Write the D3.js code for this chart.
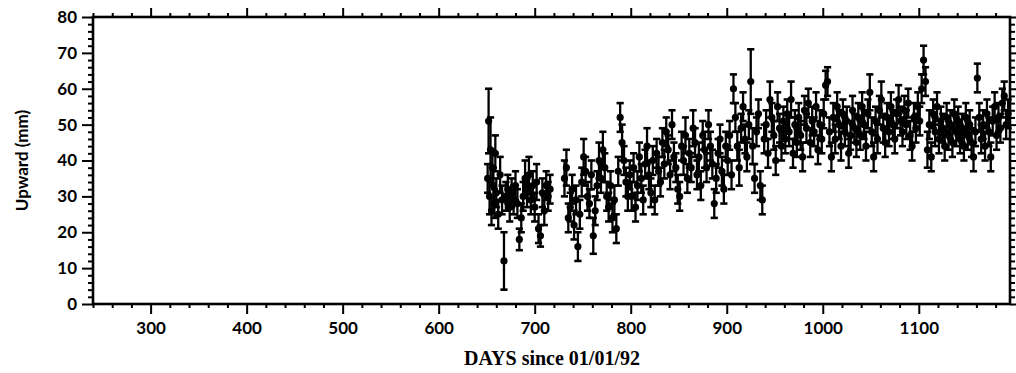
<!DOCTYPE html>
<html>
<head>
<meta charset="utf-8">
<script src="https://cdn.jsdelivr.net/npm/d3@7"></script>
<style>
  body { margin: 0; background: #fff; }
  .tick text { font-family: Lato, "Open Sans", sans-serif; font-weight: 700; font-size: 17px; fill: #000; }
  .tick line { stroke: #000; stroke-width: 2; }
</style>
</head>
<body>
<svg id="chart"></svg>
<script>
// GPS upward component, days since 01/01/92
const days = [
  651,652,653,654,655,656,657,658,659,660,662,664,666,668,670,672,674,676,678,680,
  682,684,686,688,690,692,694,696,698,700,702,704,706,708,710,712,714,716,
  731,733,735,737,739,741,743,745,747,749,751,753,755,757,759,761,763,765,767,769,
  771,773,775,777,779,781,783,785,787,789,791,793,795,797,799,
  801,803,805,807,809,811,813,815,817,819,821,823,825,827,829,831,833,835,837,839,
  841,843,845,847,849,851,853,855,857,859,861,863,865,867,869,871,873,875,877,879,
  881,883,885,887,889,891,893,895,897,899,
  901,903,905,907,909,911,913,915,917,919,921,923,925,927,929,931,933,935,937,939,
  941,943,945,947,949,951,953,955,957,959,961,963,965,967,969,971,973,975,977,979,
  981,983,985,987,989,991,993,995,997,999,
  1001,1003,1005,1007,1009,1011,1013,1015,1017,1019,1021,1023,1025,1027,1029,1031,1033,1035,1037,1039,
  1041,1043,1045,1047,1049,1051,1053,1055,1057,1059,1061,1063,1065,1067,1069,1071,1073,1075,1077,1079,
  1081,1083,1085,1087,1089,1091,1093,1095,1097,1099,
  1101,1103,1105,1107,1109,1111,1113,1115,1117,1119,1121,1123,1125,1127,1129,1131,1133,1135,1137,1139,
  1141,1143,1145,1147,1149,1151,1153,1155,1157,1159,1161,1163,1165,1167,1169,1171,1173,1175,1177,1179,
  1181,1183,1185,1187,1189,1191,1193
];
const upward = [
  35,51,30,43,26,38,33,28,42,31,25,36,29,12,30,32,27,31,29,33,
  28,18,24,30,35,31,36,29,33,27,34,21,19,31,26,33,30,32,
  35,38,24,27,32,22,29,16,25,34,41,37,30,28,36,19,26,33,40,35,
  43,38,30,27,33,24,29,21,37,52,45,40,34,30,36,
  30,38,27,33,41,35,29,39,44,36,31,40,29,42,37,34,45,39,48,43,
  36,50,41,38,32,30,44,40,47,35,42,38,49,45,36,41,33,47,43,38,
  50,44,39,28,35,42,46,37,32,44,
  40,47,36,60,52,44,38,49,55,46,41,50,62,44,35,48,53,33,29,46,
  50,42,57,52,47,40,55,49,44,51,46,53,48,57,42,50,45,52,47,41,
  54,49,56,45,51,48,55,43,50,46,
  53,61,62,48,41,52,46,55,50,44,53,48,51,42,47,54,49,45,52,47,
  55,50,44,53,59,48,41,51,46,54,57,49,45,52,48,55,50,46,53,57,
  51,48,54,50,56,47,44,52,49,55,
  51,60,68,62,43,50,41,53,48,55,46,51,49,44,52,47,50,45,53,48,
  51,46,49,44,52,47,50,45,41,48,63,52,46,50,44,53,48,41,51,55,
  47,52,49,56,58,50,53
];
const errors = [
  4,9,5,9,4,5,5,4,5,4,4,5,4,8,4,4,4,4,4,4,
  4,3,4,4,5,4,5,4,4,4,5,4,3,4,4,4,4,4,
  5,5,4,4,4,4,4,4,4,4,5,4,4,4,4,5,4,4,5,4,
  5,4,4,4,4,4,4,4,4,4,5,4,4,4,4,
  4,4,4,4,4,4,4,4,5,4,4,4,4,4,4,4,4,4,4,4,
  4,4,4,4,4,4,4,4,5,4,4,4,5,4,4,4,4,4,5,4,
  4,4,4,4,4,4,4,4,4,4,
  4,4,4,4,4,4,5,4,4,4,4,4,9,5,4,4,4,4,4,4,
  4,4,5,4,4,4,4,4,4,4,4,4,4,5,4,4,4,4,4,4,
  4,4,4,4,4,4,4,4,4,4,
  4,4,4,4,4,4,4,4,4,4,4,4,4,4,4,4,4,4,4,4,
  4,4,4,4,5,4,4,4,4,4,5,4,4,4,4,4,4,4,4,4,
  4,4,4,4,4,4,4,4,4,4,
  4,4,4,4,5,4,4,4,4,4,4,4,4,4,4,4,4,4,4,4,
  4,4,4,4,4,4,4,4,4,4,4,4,4,4,4,4,4,4,4,4,
  4,4,4,4,4,4,4
];
const xTicks = [300, 400, 500, 600, 700, 800, 900, 1000, 1100];
const yTicks = [0, 10, 20, 30, 40, 50, 60, 70, 80];

const width = 1016;
const height = 373;
const margin = { top: 17, right: 6, bottom: 69, left: 93 };

const points = days.map((d, i) => ({ day: d, v: upward[i], e: errors[i] }));

const svg = d3.select("#chart")
    .attr("width", width)
    .attr("height", height);

const xScale = d3.scaleLinear()
    .domain([240, 1195])
    .range([margin.left, width - margin.right]);

const yScale = d3.scaleLinear()
    .domain([0, 80])
    .range([height - margin.bottom, margin.top]);

// minor ticks every 20 days / 2 mm
const xMinor = d3.range(240, 1196, 20).filter(v => v % 100 !== 0);
const yMinor = d3.range(0, 81, 2).filter(v => v % 10 !== 0);

function addAxis(axis, transform) {
    const g = svg.append("g").attr("transform", transform).call(axis);
    g.select(".domain").remove();
    return g;
}

const bottomY = height - margin.bottom;
const rightX = width - margin.right;

addAxis(d3.axisBottom(xScale).tickValues(xTicks).tickSize(10).tickPadding(8).tickFormat(d3.format("d")), `translate(0,${bottomY})`);
addAxis(d3.axisBottom(xScale).tickValues(xMinor).tickSize(4).tickFormat(""), `translate(0,${bottomY})`);
addAxis(d3.axisTop(xScale).tickValues(xTicks).tickSize(9).tickFormat(""), `translate(0,${margin.top})`);
addAxis(d3.axisTop(xScale).tickValues(xMinor).tickSize(4).tickFormat(""), `translate(0,${margin.top})`);

addAxis(d3.axisLeft(yScale).tickValues(yTicks).tickSize(11).tickPadding(5).tickFormat(d3.format("d")), `translate(${margin.left},0)`);
addAxis(d3.axisLeft(yScale).tickValues(yMinor).tickSize(5).tickFormat(""), `translate(${margin.left},0)`);
addAxis(d3.axisRight(yScale).tickValues(yTicks).tickSize(6).tickFormat(""), `translate(${rightX},0)`);
addAxis(d3.axisRight(yScale).tickValues(yMinor).tickSize(5).tickFormat(""), `translate(${rightX},0)`);

// frame
svg.append("rect")
    .attr("x", margin.left)
    .attr("y", margin.top)
    .attr("width", rightX - margin.left)
    .attr("height", bottomY - margin.top)
    .attr("fill", "none")
    .attr("stroke", "#000")
    .attr("stroke-width", 2.6);

// error bars + points
const marks = svg.append("g");
const capW = 3.6;

const bars = marks.selectAll("g.pt")
    .data(points)
    .enter()
    .append("g")
    .attr("class", "pt");

bars.append("line")
    .attr("x1", d => xScale(d.day))
    .attr("x2", d => xScale(d.day))
    .attr("y1", d => yScale(d.v - d.e))
    .attr("y2", d => yScale(d.v + d.e))
    .attr("stroke", "#000")
    .attr("stroke-width", 2.3);

bars.append("line")
    .attr("x1", d => xScale(d.day) - capW)
    .attr("x2", d => xScale(d.day) + capW)
    .attr("y1", d => yScale(d.v + d.e))
    .attr("y2", d => yScale(d.v + d.e))
    .attr("stroke", "#000")
    .attr("stroke-width", 2.6);

bars.append("line")
    .attr("x1", d => xScale(d.day) - capW)
    .attr("x2", d => xScale(d.day) + capW)
    .attr("y1", d => yScale(d.v - d.e))
    .attr("y2", d => yScale(d.v - d.e))
    .attr("stroke", "#000")
    .attr("stroke-width", 2.6);

bars.append("circle")
    .attr("cx", d => xScale(d.day))
    .attr("cy", d => yScale(d.v))
    .attr("r", 3.6)
    .attr("fill", "#000");

// axis titles
svg.append("text")
    .attr("x", 552)
    .attr("y", 365)
    .attr("text-anchor", "middle")
    .style("font-family", "'Liberation Serif', 'Times New Roman', serif")
    .style("font-weight", "700")
    .style("font-size", "20px")
    .text("DAYS since 01/01/92");

svg.append("text")
    .attr("transform", `translate(28,${(margin.top + bottomY) / 2}) rotate(-90)`)
    .attr("text-anchor", "middle")
    .style("font-family", "Lato, 'Open Sans', sans-serif")
    .style("font-weight", "700")
    .style("font-size", "17px")
    .text("Upward (mm)");
</script>
</body>
</html>
